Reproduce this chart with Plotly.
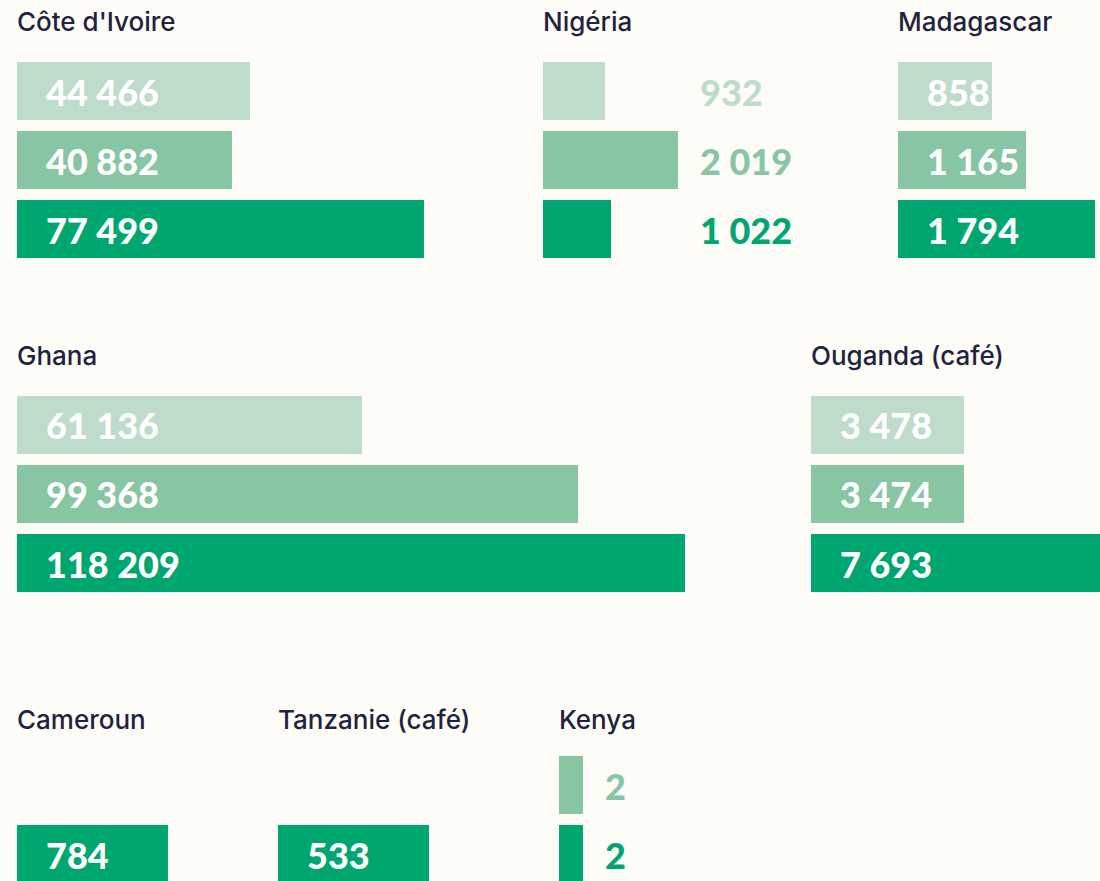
import plotly.graph_objects as go

# ---- data ----
countries = ["Côte d'Ivoire", "Nigéria", "Madagascar", "Ghana",
             "Ouganda (café)", "Cameroun", "Tanzanie (café)", "Kenya"]
year1 = [44466, 932, 858, 61136, 3478, None, None, None]
year2 = [40882, 2019, 1165, 99368, 3474, None, None, 2]
year3 = [77499, 1022, 1794, 118209, 7693, 784, 533, 2]

# ---- layout / style (pixels) ----
W, H = 1100, 881
COLORS = ["#BEDCC9", "#88C5A2", "#00A66F"]
BG = "#FEFCF7"
TITLE_COLOR = "#1E2340"
panel_x0 = [17, 543, 898, 17, 811, 17, 278, 559]
panel_x1 = [530, 890, 1100, 800, 1100, 270, 550, 1100]
panel_row = [0, 0, 0, 1, 1, 2, 2, 2]
panel_ppu = [0.00525, 0.067, 0.11, 0.00565, 0.0441, 0.1926, 0.2833, 12.0]
label_outside = [False, True, False, False, False, False, False, True]
row_title_y = [22, 355, 719]
row_slot_top = [56, 390, 681]
SLOT = 69.0
BAR_FRAC = 58 / 69

fig = go.Figure()
annotations = []
layout_axes = {}

for i, name in enumerate(countries):
    vals = [year1[i], year2[i], year3[i]]
    n = i + 1
    xa = "x" if n == 1 else f"x{n}"
    ya = "y" if n == 1 else f"y{n}"
    xkey = "xaxis" if n == 1 else f"xaxis{n}"
    ykey = "yaxis" if n == 1 else f"yaxis{n}"

    x0, x1 = panel_x0[i], panel_x1[i]
    r = panel_row[i]
    top = row_slot_top[r]
    bottom = min(top + 3 * SLOT, H)

    ys = [k for k in range(3) if vals[k] is not None]
    xs = [vals[k] for k in ys]
    cs = [COLORS[k] for k in ys]
    fig.add_trace(go.Bar(
        x=xs, y=ys, orientation="h", marker=dict(color=cs, line=dict(width=0)),
        width=BAR_FRAC, xaxis=xa, yaxis=ya, hoverinfo="skip", showlegend=False,
    ))

    layout_axes[xkey] = dict(
        domain=[x0 / W, x1 / W], range=[0, (x1 - x0) / panel_ppu[i]],
        visible=False, fixedrange=True, anchor=ya,
    )
    layout_axes[ykey] = dict(
        domain=[1 - bottom / H, 1 - top / H],
        range=[-0.5 + (bottom - top) / SLOT, -0.5],
        visible=False, fixedrange=True, anchor=xa,
    )

    vmax = max(xs)
    for k, v in zip(ys, xs):
        txt = f"{v:,}".replace(",", " ")
        if label_outside[i]:
            ax, shift, col = vmax, 20, COLORS[k]
        else:
            ax, shift, col = 0, 27, "#FFFFFF"
        annotations.append(dict(
            x=ax, y=k, xref=xa, yref=ya, text=txt, showarrow=False,
            xanchor="left", yanchor="middle", xshift=shift, yshift=-1,
            font=dict(family="Lato, 'Open Sans', sans-serif", size=36,
                      color=col, weight=900),
        ))

    annotations.append(dict(
        x=x0 / W, y=1 - row_title_y[r] / H, xref="paper", yref="paper",
        text=name, showarrow=False, xanchor="left", yanchor="middle",
        xshift=-2,
        font=dict(family="Inter, 'Open Sans', sans-serif", size=26,
                  color=TITLE_COLOR, weight=500),
    ))

fig.update_layout(
    width=W, height=H, margin=dict(l=0, r=0, t=0, b=0),
    paper_bgcolor=BG, plot_bgcolor="rgba(0,0,0,0)",
    annotations=annotations, bargap=0, **layout_axes,
)

fig.write_html(
    "out.html",
    config={"displayModeBar": False},
    post_script="document.body.style.margin='0';document.body.style.background='#FEFCF7';",
)
